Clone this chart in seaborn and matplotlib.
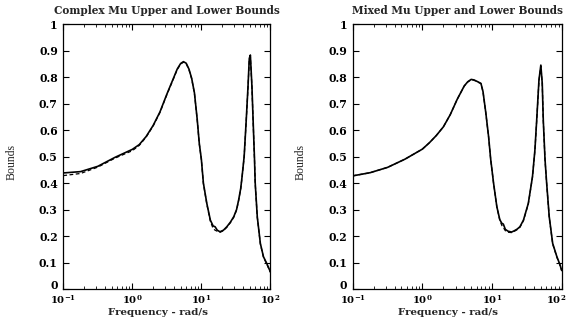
import numpy as np
import pandas as pd
import matplotlib
matplotlib.use("Agg")
import matplotlib.pyplot as plt
import matplotlib.transforms as mtransforms
import seaborn as sns
from matplotlib.ticker import LogLocator, NullFormatter, FixedLocator

# ---------------- data ----------------
titles = ["Complex Mu Upper and Lower Bounds", "Mixed Mu Upper and Lower Bounds"]
x_label = "Frequency - rad/s"
y_label = "Bounds"

freq_complex = [0.1, 0.178, 0.316, 0.562, 1.0, 1.26, 1.58, 2.0, 2.51, 3.16, 3.98, 4.47,
                5.01, 5.5, 6.03, 6.61, 7.24, 7.94, 8.71, 9.33, 10.0, 10.7, 12.0, 13.5,
                14.8, 15.8, 17.0, 18.6, 20.9, 23.4, 26.3, 29.5, 32.4, 34.7, 37.2, 38.9,
                41.7, 44.7, 47.4, 49.5, 51.3, 54.1, 56.2, 58.9, 60.3, 64.6, 71.6, 79.4,
                89.1, 100.0]
upper_complex = [0.438, 0.443, 0.463, 0.497, 0.527, 0.545, 0.575, 0.617, 0.668, 0.735,
                 0.798, 0.830, 0.851, 0.858, 0.852, 0.830, 0.795, 0.740, 0.640, 0.550,
                 0.490, 0.400, 0.323, 0.260, 0.238, 0.235, 0.222, 0.216, 0.222, 0.235,
                 0.252, 0.273, 0.300, 0.336, 0.380, 0.424, 0.500, 0.638, 0.763, 0.870,
                 0.883, 0.763, 0.638, 0.490, 0.400, 0.273, 0.172, 0.122, 0.095, 0.065]
lower_complex = [0.428, 0.436, 0.460, 0.494, 0.522, 0.542, 0.573, 0.615, 0.666, 0.733,
                 0.796, 0.828, 0.849, 0.856, 0.850, 0.828, 0.793, 0.738, 0.638, 0.548,
                 0.488, 0.398, 0.320, 0.256, 0.228, 0.222, 0.218, 0.214, 0.220, 0.233,
                 0.250, 0.271, 0.298, 0.334, 0.378, 0.422, 0.498, 0.636, 0.760, 0.865,
                 0.878, 0.760, 0.636, 0.488, 0.398, 0.271, 0.170, 0.120, 0.093, 0.063]

freq_mixed = [0.1, 0.178, 0.316, 0.562, 1.0, 1.26, 1.58, 2.0, 2.51, 3.16, 3.98, 4.47,
              5.01, 5.5, 6.03, 6.92, 7.41, 8.13, 8.91, 9.55, 10.5, 11.7, 12.9, 13.8,
              14.5, 15.5, 17.0, 19.1, 20.9, 22.9, 25.1, 28.2, 33.1, 38.0, 41.2, 43.7,
              47.1, 50.1, 52.5, 54.3, 57.5, 60.7, 66.1, 74.1, 85.1, 93.3, 100.0]
upper_mixed = [0.427, 0.439, 0.459, 0.490, 0.528, 0.552, 0.579, 0.612, 0.658, 0.716,
               0.766, 0.782, 0.791, 0.789, 0.784, 0.776, 0.745, 0.665, 0.575, 0.490,
               0.400, 0.311, 0.262, 0.248, 0.245, 0.225, 0.218, 0.215, 0.220, 0.226,
               0.235, 0.260, 0.323, 0.424, 0.525, 0.638, 0.789, 0.845, 0.776, 0.638,
               0.490, 0.400, 0.273, 0.172, 0.122, 0.095, 0.070]
lower_mixed = [0.427, 0.439, 0.459, 0.490, 0.528, 0.552, 0.579, 0.612, 0.658, 0.716,
               0.766, 0.781, 0.790, 0.788, 0.783, 0.775, 0.744, 0.664, 0.574, 0.489,
               0.399, 0.310, 0.260, 0.240, 0.232, 0.220, 0.214, 0.213, 0.218, 0.224,
               0.233, 0.258, 0.321, 0.422, 0.523, 0.636, 0.786, 0.842, 0.773, 0.636,
               0.488, 0.398, 0.271, 0.170, 0.120, 0.093, 0.068]

y_ticks = [0, 0.1, 0.2, 0.3, 0.4, 0.5, 0.6, 0.7, 0.8, 0.9, 1]
y_tick_labels = ["0", "0.1", "0.2", "0.3", "0.4", "0.5", "0.6", "0.7", "0.8", "0.9", "1"]
x_ticks = [0.1, 1, 10, 100]
x_tick_labels = [r"$\mathbf{10^{-1}}$", r"$\mathbf{10^{0}}$", r"$\mathbf{10^{1}}$", r"$\mathbf{10^{2}}$"]

# ---------------- style ----------------
sns.set_theme(style="white")
plt.rcParams["font.family"] = ["DejaVu Serif"]
plt.rcParams["mathtext.fontset"] = "dejavuserif"

fig = plt.figure(figsize=(5.68, 3.30), dpi=100)
fig.patch.set_facecolor("white")

positions = [[0.1115, 0.1242, 0.3645, 0.8030], [0.621, 0.1242, 0.368, 0.8030]]
panels = [(freq_complex, upper_complex, lower_complex),
          (freq_mixed, upper_mixed, lower_mixed)]
ylabel_x = [-0.222, -0.219]

for i, (pos, title, (fr, up, lo)) in enumerate(zip(positions, titles, panels)):
    ax = fig.add_axes(pos)
    ax.set_facecolor("white")
    sns.lineplot(x=fr, y=lo, ax=ax, color="black", linewidth=0.9,
                 linestyle=(0, (3, 2)), estimator=None, sort=False)
    sns.lineplot(x=fr, y=up, ax=ax, color="black", linewidth=1.2,
                 estimator=None, sort=False)
    ax.set_xscale("log")
    ax.set_xlim(0.1, 100)
    ax.set_ylim(0, 1)
    ax.xaxis.set_major_locator(FixedLocator(x_ticks))
    ax.set_xticklabels(x_tick_labels)
    ax.xaxis.set_minor_locator(LogLocator(base=10, subs=np.arange(2, 10)))
    ax.xaxis.set_minor_formatter(NullFormatter())
    ax.set_yticks(y_ticks)
    ax.set_yticklabels(y_tick_labels)
    ax.tick_params(axis="both", which="major", direction="in", length=4, width=0.8,
                   top=True, right=True, bottom=True, left=True,
                   labelsize=7.8, colors="black")
    ax.tick_params(axis="y", which="major", pad=4)
    ax.tick_params(axis="x", which="major", pad=3, labelsize=7.2)
    ax.tick_params(axis="x", which="minor", direction="in", length=2.5, width=0.7,
                   top=True, bottom=True)
    for lab in ax.get_xticklabels() + ax.get_yticklabels():
        lab.set_fontweight("bold")
    # lift the "0" label a little so it clears the first x label
    zero_lab = ax.get_yticklabels()[0]
    zero_lab.set_transform(zero_lab.get_transform() +
                           mtransforms.ScaledTranslation(0, 3 / 72, fig.dpi_scale_trans))
    if i == 1:
        last_lab = ax.get_xticklabels()[-1]
        last_lab.set_transform(last_lab.get_transform() +
                               mtransforms.ScaledTranslation(-4 / 72, 0, fig.dpi_scale_trans))
    for sp in ax.spines.values():
        sp.set_color("black")
        sp.set_linewidth(0.9)
    ax.set_title(title, fontsize=7.6, fontweight="bold", pad=7)
    ax.set_xlabel(x_label, fontsize=7.4, fontweight="bold")
    ax.xaxis.set_label_coords(0.455, -0.072)
    ax.set_ylabel(y_label, fontsize=8.5, family=["Liberation Serif"])
    ax.yaxis.set_label_coords(ylabel_x[i], 0.48)

fig.savefig("out.png", dpi=100, facecolor="white")
